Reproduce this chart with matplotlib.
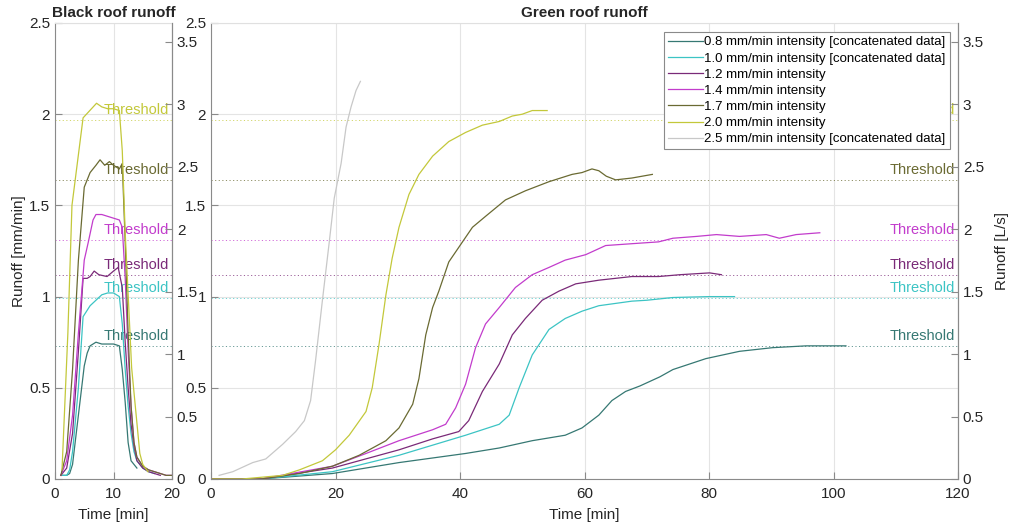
import numpy as np
import matplotlib
matplotlib.use('Agg')
import matplotlib.pyplot as plt
from matplotlib.transforms import offset_copy

plt.rcParams['font.family'] = ['Liberation Sans', 'DejaVu Sans']

# series labels + colours
labels = ['0.8 mm/min intensity [concatenated data]',
          '1.0 mm/min intensity [concatenated data]',
          '1.2 mm/min intensity',
          '1.4 mm/min intensity',
          '1.7 mm/min intensity',
          '2.0 mm/min intensity',
          '2.5 mm/min intensity [concatenated data]']
colors = ['#367873', '#3cc4c4', '#7a2a78', '#c23ccc', '#6a6a32', '#c3c83a', '#c8c8c8']

# threshold runoff per intensity (mm/min), 0.8 ... 2.0
thresholds = [0.73, 0.99, 1.12, 1.31, 1.64, 1.97]

# mm/min -> L/s conversion for the right axis
ls_per_mm = 3.65 / 2.5

# black roof runoff (time [min], runoff [mm/min])
black_t = [
    [1, 2, 2.5, 3, 4, 5, 5.5, 6, 7, 8, 9, 10, 11, 11.5, 12, 12.5, 13, 14],
    [1, 2, 2.5, 3, 4, 4.8, 6, 7, 8, 9, 10, 11, 11.5, 12, 12.5, 13, 13.5, 14, 15, 16, 17],
    [1, 2, 3, 4, 4.8, 5.5, 6, 6.7, 7.5, 8.9, 10, 10.8, 11.5, 12, 12.5, 13, 13.5, 14, 15, 16, 17, 18],
    [1, 2, 3, 4, 5, 5.7, 6.5, 7, 8, 9, 10, 11, 11.5, 12, 12.5, 13, 13.5, 14, 15, 16, 17, 18, 19, 20],
    [1, 2, 3, 4, 5, 6, 7, 7.7, 8.5, 9.3, 10, 11, 11.5, 12, 12.5, 13, 13.5, 14, 15, 16, 17, 18, 19, 20],
    [1.2, 2.2, 2.9, 4.8, 7.1, 8, 9, 10, 11, 11.5, 12, 13.1, 14.5, 15, 15.9],
]
black_v = [
    [0.02, 0.02, 0.03, 0.08, 0.35, 0.62, 0.69, 0.73, 0.75, 0.74, 0.74, 0.74, 0.73, 0.6, 0.42, 0.2, 0.1, 0.06],
    [0.02, 0.02, 0.05, 0.15, 0.5, 0.89, 0.95, 0.98, 1.01, 1.02, 1.02, 1.0, 0.85, 0.6, 0.4, 0.25, 0.15, 0.1, 0.06, 0.04, 0.03],
    [0.02, 0.06, 0.25, 0.7, 1.1, 1.1, 1.11, 1.14, 1.12, 1.11, 1.14, 1.16, 1.05, 0.75, 0.5, 0.3, 0.18, 0.1, 0.06, 0.04, 0.03, 0.02],
    [0.02, 0.1, 0.35, 0.8, 1.2, 1.3, 1.42, 1.45, 1.45, 1.44, 1.43, 1.42, 1.38, 1.1, 0.7, 0.4, 0.2, 0.12, 0.07, 0.05, 0.04, 0.03, 0.02, 0.02],
    [0.02, 0.15, 0.6, 1.2, 1.6, 1.68, 1.72, 1.75, 1.72, 1.74, 1.72, 1.70, 1.73, 1.3, 0.8, 0.4, 0.2, 0.12, 0.07, 0.05, 0.04, 0.03, 0.02, 0.02],
    [0.05, 0.8, 1.5, 1.98, 2.06, 2.04, 2.03, 2.03, 2.02, 1.8, 1.35, 0.61, 0.14, 0.08, 0.04],
]

# green roof runoff (time [min], runoff [mm/min])
green_t = [
    [0, 8, 19.5, 30.2, 40.9, 46.3, 51.6, 56.9, 59.6, 62.3, 64.4, 66.6, 68.9, 72.1, 74.2, 79.5, 84.9, 90.2, 95.6, 102],
    [0, 8, 19.5, 30.2, 40.9, 46.3, 47.9, 49.5, 51.6, 54.3, 56.9, 59.6, 62.3, 67.6, 70, 74.2, 80.1, 84.1],
    [0, 8, 19.5, 30.2, 35.6, 39.8, 41.4, 43.6, 46.3, 48.4, 50.5, 53.2, 55.9, 58.6, 62.3, 67.6, 71.9, 75.3, 80.1, 82],
    [0, 8, 19.5, 24.9, 30.2, 35.6, 37.7, 39.3, 40.9, 42.5, 44.1, 46.3, 48.9, 51.6, 54.3, 56.9, 60.2, 63.4,
     67.6, 71.9, 74.2, 78, 81.2, 84.9, 89.2, 91.3, 94, 97.8],
    [0, 8, 14.2, 19.5, 23.8, 28.1, 30.2, 32.4, 33.4, 34.5, 35.6, 36.6, 38.2, 40.4, 42, 44.1, 47.3, 50.5,
     54.3, 58, 59.6, 61.2, 62.3, 63.5, 65, 67.6, 70.9],
    [0, 5, 11.5, 14.2, 17.9, 20, 22.2, 24.9, 25.9, 27, 28.1, 29.1, 30.2, 31.8, 33.4, 35.6, 38.2, 40.9,
     43.6, 46.3, 48.4, 50, 51.6, 54],
    [1.3, 3.5, 6.7, 8.8, 11.5, 13.6, 15, 16, 16.8, 17.9, 19, 19.8, 20.9, 21.7, 22.5, 23.3, 24],
]
green_v = [
    [0, 0.0, 0.03, 0.09, 0.14, 0.17, 0.21, 0.24, 0.28, 0.35, 0.43, 0.48, 0.51, 0.56, 0.60, 0.66, 0.70, 0.72, 0.73, 0.73],
    [0, 0.0, 0.04, 0.13, 0.24, 0.30, 0.35, 0.50, 0.68, 0.82, 0.88, 0.92, 0.95, 0.975, 0.98, 0.995, 1.0, 1.0],
    [0, 0.0, 0.06, 0.16, 0.22, 0.26, 0.32, 0.48, 0.63, 0.79, 0.88, 0.98, 1.03, 1.07, 1.09, 1.11, 1.11, 1.12, 1.13, 1.12],
    [0, 0.0, 0.07, 0.14, 0.21, 0.27, 0.30, 0.39, 0.52, 0.72, 0.85, 0.94, 1.05, 1.12, 1.16, 1.20, 1.23, 1.28,
     1.29, 1.30, 1.32, 1.33, 1.34, 1.33, 1.34, 1.32, 1.34, 1.35],
    [0, 0.0, 0.03, 0.07, 0.13, 0.21, 0.28, 0.41, 0.55, 0.79, 0.94, 1.03, 1.19, 1.30, 1.38, 1.44, 1.53, 1.58,
     1.63, 1.67, 1.68, 1.70, 1.69, 1.66, 1.64, 1.65, 1.67],
    [0, 0.0, 0.02, 0.05, 0.10, 0.16, 0.24, 0.37, 0.50, 0.74, 1.01, 1.21, 1.38, 1.56, 1.67, 1.77, 1.85, 1.90,
     1.94, 1.96, 1.99, 2.0, 2.02, 2.02],
    [0.02, 0.04, 0.09, 0.11, 0.19, 0.26, 0.32, 0.43, 0.65, 0.98, 1.30, 1.54, 1.73, 1.93, 2.04, 2.13, 2.18],
]

spine_c = '#8a8a8a'
text_c = '#262626'

fig = plt.figure(figsize=(10.13, 5.26), dpi=100)
W, H = 1013, 526
ax1 = fig.add_axes([55 / W, 47 / H, 117 / W, 456 / H])
ax2 = fig.add_axes([211 / W, 47 / H, 747 / W, 456 / H])


def style_axes(ax, xmax, xstep):
    ax.set_xlim(0, xmax)
    ax.set_ylim(0, 2.5)
    ax.set_xticks(np.arange(0, xmax + 1, xstep))
    ax.set_yticks(np.arange(0, 2.51, 0.5))
    ax.set_yticklabels(['0', '0.5', '1', '1.5', '2', '2.5'])
    ax.grid(True, color='#e4e4e4', linewidth=0.8)
    ax.set_axisbelow(True)
    ax.tick_params(direction='in', length=5, width=0.8, color=spine_c,
                   labelsize=11, labelcolor=text_c, top=False)
    ax.tick_params(axis='x', pad=6)
    for side in ['left', 'bottom', 'right']:
        ax.spines[side].set_color(spine_c)
    ax.spines['top'].set_color('#e0e0e0')
    ax.set_xlabel('Time [min]', fontsize=11, color=text_c, labelpad=5)

    axr = ax.twinx()
    axr.set_ylim(0, 2.5 * ls_per_mm)
    axr.set_yticks(np.arange(0, 3.51, 0.5))
    axr.set_yticklabels(['0', '0.5', '1', '1.5', '2', '2.5', '3', '3.5'])
    axr.tick_params(direction='in', length=5, width=0.8, color=spine_c,
                    labelsize=11, labelcolor=text_c)
    axr.spines['right'].set_color(spine_c)
    axr.spines['top'].set_visible(False)
    axr.spines['left'].set_visible(False)
    axr.spines['bottom'].set_visible(False)
    return axr


ax1r = style_axes(ax1, 20, 10)
ax2r = style_axes(ax2, 120, 20)
ax1.set_ylabel('Runoff [mm/min]', fontsize=11, color=text_c, labelpad=2)
ax2r.set_ylabel('Runoff [L/s]', fontsize=11, color=text_c, labelpad=8)

ax1.set_title('Black roof runoff', fontsize=11, fontweight='bold', color=text_c, pad=4)
ax2.set_title('Green roof runoff', fontsize=11, fontweight='bold', color=text_c, pad=4)

# threshold lines + labels
for ax in (ax1, ax2):
    txt_tr = offset_copy(ax.get_yaxis_transform(), fig=fig, x=-3, y=10, units='dots')
    for thr, c in zip(thresholds, colors):
        ax.axhline(thr, color=c, linestyle=(0, (1.2, 2.5)), linewidth=0.7, alpha=0.75, zorder=1.5)
        ax.text(1.0, thr, 'Threshold', transform=txt_tr, ha='right', va='center',
                color=c, fontsize=10.5, zorder=2)

# runoff curves
for t, v, c in zip(black_t, black_v, colors):
    ax1.plot(t, v, color=c, linewidth=0.9)

for t, v, c, lab in zip(green_t, green_v, colors, labels):
    ax2.plot(t, v, color=c, linewidth=0.9, label=lab)

leg = ax2.legend(loc='upper right', bbox_to_anchor=(0.989, 0.980), borderaxespad=0,
                 fontsize=9.5, handlelength=2.65, handletextpad=0.1, labelspacing=0.3,
                 borderpad=0.3, fancybox=False, framealpha=1, edgecolor='#8a8a8a')
leg.get_frame().set_linewidth(0.8)
leg.set_zorder(10)

fig.savefig('out.png', dpi=100)
